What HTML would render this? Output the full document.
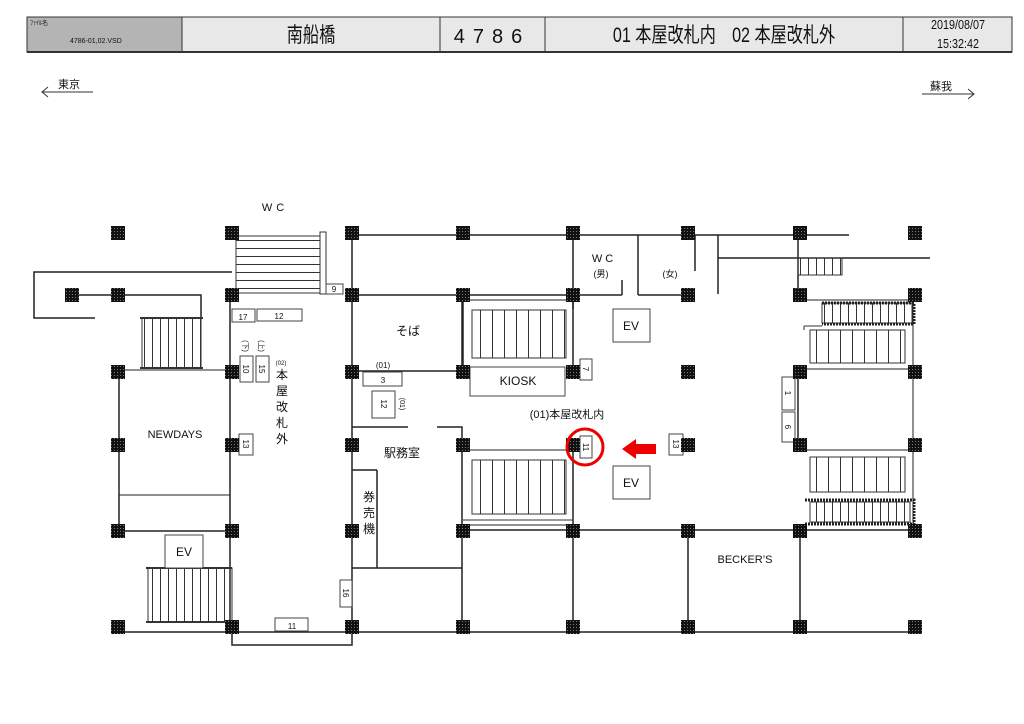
<!DOCTYPE html>
<html><head><meta charset="utf-8"><style>
body{margin:0;background:#fff}
svg{display:block}
text{font-family:"Liberation Sans","Noto Sans CJK JP",sans-serif;fill:#111}
</style></head><body>
<svg width="1024" height="724" viewBox="0 0 1024 724" xmlns="http://www.w3.org/2000/svg">
<defs>
<pattern id="pl" width="3" height="3" patternUnits="userSpaceOnUse"><rect width="3" height="3" fill="#111"/><rect width="1" height="1" fill="#777"/></pattern>
<pattern id="vt" width="12" height="10" patternUnits="userSpaceOnUse"><line x1="0.5" y1="0" x2="0.5" y2="10" stroke="#333"/></pattern>
<pattern id="vt8" width="8" height="10" patternUnits="userSpaceOnUse"><line x1="0.5" y1="0" x2="0.5" y2="10" stroke="#333"/></pattern>
<pattern id="ht" width="10" height="8" patternUnits="userSpaceOnUse"><line x1="0" y1="0.5" x2="10" y2="0.5" stroke="#333"/></pattern>
</defs>
<!-- header -->
<rect x="27" y="17" width="985" height="35" fill="#e8e8e8" stroke="#333"/>
<rect x="27" y="17" width="155" height="35" fill="#b4b4b4" stroke="#333"/>
<line x1="440" y1="17" x2="440" y2="52" stroke="#333"/>
<line x1="545" y1="17" x2="545" y2="52" stroke="#333"/>
<line x1="903" y1="17" x2="903" y2="52" stroke="#333"/>
<line x1="27" y1="52" x2="1012" y2="52" stroke="#333" stroke-width="2"/>
<text x="30" y="25" font-size="6">ﾌｧｲﾙ名</text>
<text x="70" y="43" font-size="7">4786-01,02.VSD</text>
<text transform="translate(311,42) scale(0.85,1.1)" font-size="19" text-anchor="middle">南船橋</text>
<text x="492" y="43" font-size="20" text-anchor="middle" letter-spacing="8">4786</text>
<text transform="translate(724,42) scale(0.85,1.1)" font-size="19" text-anchor="middle">01 本屋改札内　02 本屋改札外</text>
<text transform="translate(958,29) scale(0.9,1.1)" font-size="12" text-anchor="middle">2019/08/07</text>
<text transform="translate(958,48) scale(0.9,1.1)" font-size="12" text-anchor="middle">15:32:42</text>
<!-- direction -->
<text x="58" y="88" font-size="11">東京</text>
<path d="M42 92H93M48 87L42 92L48 97" stroke="#333" fill="none"/>
<text x="930" y="90" font-size="11">蘇我</text>
<path d="M922 94H974M968 89L974 94L968 99" stroke="#333" fill="none"/>

<g stroke="#222" stroke-width="1.5" fill="none">
<line x1="352" y1="235" x2="849" y2="235"/>
<path d="M232 272H34V318H95"/>
<path d="M72 295H201V318"/>
<line x1="352" y1="295" x2="622" y2="295"/>
<line x1="638" y1="295" x2="687" y2="295"/>
<line x1="622" y1="280" x2="622" y2="295"/>
<line x1="638" y1="235" x2="638" y2="295"/>
<line x1="695" y1="235" x2="695" y2="271"/>
<line x1="718" y1="235" x2="718" y2="294"/>
<line x1="718" y1="258" x2="930" y2="258"/>
<line x1="573" y1="235" x2="573" y2="309"/>
<line x1="352" y1="233" x2="352" y2="632"/>
<line x1="462" y1="295" x2="462" y2="372"/>
<line x1="352" y1="371" x2="463" y2="371"/>
<line x1="230" y1="295" x2="230" y2="628"/>
<line x1="119" y1="370" x2="119" y2="530"/>
<line x1="119" y1="370" x2="232" y2="370" stroke-width="1"/>
<line x1="119" y1="495" x2="230" y2="495" stroke-width="1"/>
<line x1="119" y1="531" x2="232" y2="531"/>
<line x1="118" y1="632" x2="915" y2="632"/>
<path d="M232 632V645H352V632"/>
<path d="M352 427H408M437 427H462V632"/>
<line x1="352" y1="568" x2="462" y2="568"/>
<line x1="377" y1="470" x2="377" y2="568"/>
<line x1="352" y1="470" x2="377" y2="470"/>
<line x1="463" y1="300" x2="573" y2="300" stroke-width="1"/>
<line x1="463" y1="295" x2="463" y2="372"/>
<line x1="573" y1="300" x2="573" y2="372"/>
<line x1="573" y1="444" x2="573" y2="632"/>
<line x1="463" y1="450" x2="573" y2="450" stroke-width="1"/>
<line x1="463" y1="525" x2="573" y2="525" stroke-width="1"/>
<line x1="463" y1="530" x2="915" y2="530"/>
<line x1="688" y1="530" x2="688" y2="632"/>
<line x1="800" y1="530" x2="800" y2="632"/>
<line x1="798" y1="235" x2="798" y2="300"/>
<line x1="800" y1="300" x2="915" y2="300" stroke-width="1"/>
<line x1="804" y1="369" x2="915" y2="369" stroke-width="1"/>
<line x1="798" y1="372" x2="798" y2="444"/>
<line x1="804" y1="450" x2="915" y2="450" stroke-width="1"/>
<line x1="913" y1="300" x2="913" y2="530" stroke-width="1"/>
</g>

<g stroke="#333" stroke-width="1">
<rect x="142" y="318" width="59" height="50" fill="url(#vt8)"/>
<rect x="142" y="318" width="59" height="50" fill="none"/>
<line x1="140" y1="318" x2="203" y2="318" stroke-width="2"/>
<line x1="140" y1="368" x2="203" y2="368" stroke-width="2"/>
<rect x="148" y="568" width="84" height="54" fill="url(#vt8)"/>
<rect x="148" y="568" width="84" height="54" fill="none"/>
<line x1="146" y1="568" x2="232" y2="568" stroke-width="2"/>
<line x1="146" y1="622" x2="232" y2="622" stroke-width="2"/>
<rect x="236" y="236" width="84" height="57" fill="url(#ht)"/>
<rect x="236" y="236" width="84" height="57" fill="none"/>
<rect x="320" y="232" width="6" height="62" fill="#fff"/>
<rect x="472" y="310" width="94" height="48" fill="url(#vt)"/>
<rect x="472" y="310" width="94" height="48" fill="none"/>
<rect x="472" y="460" width="94" height="54" fill="url(#vt)"/>
<rect x="472" y="460" width="94" height="54" fill="none"/>
<line x1="463" y1="520" x2="573" y2="520"/>
<rect x="810" y="330" width="95" height="33" fill="url(#vt)"/>
<rect x="810" y="330" width="95" height="33" fill="none"/>
<rect x="810" y="457" width="95" height="35" fill="url(#vt)"/>
<rect x="810" y="457" width="95" height="35" fill="none"/>
<rect x="822" y="303" width="90" height="20" fill="url(#vt8)"/>
<path d="M822 303H914V324H822" fill="none" stroke="#222" stroke-width="3" stroke-dasharray="2 1"/>
<path d="M805 500H914V524H805" fill="none" stroke="#222" stroke-width="3" stroke-dasharray="2 1"/>
<rect x="810" y="502" width="100" height="20" fill="url(#vt8)"/>
<line x1="804" y1="326" x2="822" y2="326"/>
<line x1="804" y1="326" x2="804" y2="330"/>
<rect x="798" y="258" width="44" height="17" fill="url(#vt8)"/>
<rect x="798" y="258" width="44" height="17" fill="none"/>
</g>

<g stroke="#444" stroke-width="1" fill="#fff">
<rect x="326" y="284" width="17" height="10"/>
<rect x="232" y="309" width="23" height="13"/>
<rect x="257" y="309" width="45" height="12"/>
<rect x="240" y="356" width="13" height="26"/>
<rect x="256" y="356" width="13" height="26"/>
<rect x="239" y="434" width="14" height="21"/>
<rect x="363" y="372" width="39" height="14"/>
<rect x="372" y="391" width="23" height="27"/>
<rect x="340" y="580" width="12" height="27"/>
<rect x="275" y="618" width="33" height="13"/>
<rect x="470" y="367" width="95" height="29"/>
<rect x="580" y="359" width="12" height="21"/>
<rect x="613" y="309" width="37" height="33"/>
<rect x="613" y="466" width="37" height="33"/>
<rect x="580" y="436" width="12" height="22"/>
<rect x="669" y="434" width="14" height="21"/>
<rect x="782" y="377" width="13" height="33"/>
<rect x="782" y="412" width="13" height="30"/>
<rect x="165" y="535" width="38" height="33"/>
</g>

<g fill="url(#pl)">
<rect x="111" y="226" width="14" height="14"/><rect x="225" y="226" width="14" height="14"/><rect x="345" y="226" width="14" height="14"/><rect x="456" y="226" width="14" height="14"/><rect x="566" y="226" width="14" height="14"/><rect x="681" y="226" width="14" height="14"/><rect x="793" y="226" width="14" height="14"/><rect x="908" y="226" width="14" height="14"/>
<rect x="65" y="288" width="14" height="14"/><rect x="111" y="288" width="14" height="14"/><rect x="225" y="288" width="14" height="14"/><rect x="345" y="288" width="14" height="14"/><rect x="456" y="288" width="14" height="14"/><rect x="566" y="288" width="14" height="14"/><rect x="681" y="288" width="14" height="14"/><rect x="793" y="288" width="14" height="14"/><rect x="908" y="288" width="14" height="14"/>
<rect x="111" y="365" width="14" height="14"/><rect x="225" y="365" width="14" height="14"/><rect x="345" y="365" width="14" height="14"/><rect x="456" y="365" width="14" height="14"/><rect x="566" y="365" width="14" height="14"/><rect x="681" y="365" width="14" height="14"/><rect x="793" y="365" width="14" height="14"/><rect x="908" y="365" width="14" height="14"/>
<rect x="111" y="438" width="14" height="14"/><rect x="225" y="438" width="14" height="14"/><rect x="345" y="438" width="14" height="14"/><rect x="456" y="438" width="14" height="14"/><rect x="566" y="438" width="14" height="14"/><rect x="681" y="438" width="14" height="14"/><rect x="793" y="438" width="14" height="14"/><rect x="908" y="438" width="14" height="14"/>
<rect x="111" y="524" width="14" height="14"/><rect x="225" y="524" width="14" height="14"/><rect x="345" y="524" width="14" height="14"/><rect x="456" y="524" width="14" height="14"/><rect x="566" y="524" width="14" height="14"/><rect x="681" y="524" width="14" height="14"/><rect x="793" y="524" width="14" height="14"/><rect x="908" y="524" width="14" height="14"/>
<rect x="111" y="620" width="14" height="14"/><rect x="225" y="620" width="14" height="14"/><rect x="345" y="620" width="14" height="14"/><rect x="456" y="620" width="14" height="14"/><rect x="566" y="620" width="14" height="14"/><rect x="681" y="620" width="14" height="14"/><rect x="793" y="620" width="14" height="14"/><rect x="908" y="620" width="14" height="14"/>
</g>

<g font-size="8">
<text x="334" y="292" text-anchor="middle">9</text>
<text x="243" y="320" text-anchor="middle">17</text>
<text x="279" y="319" text-anchor="middle">12</text>
<text x="383" y="383" text-anchor="middle">3</text>
<text x="292" y="629" text-anchor="middle">11</text>
<text transform="translate(243,369) rotate(90)" text-anchor="middle">10</text>
<text transform="translate(259,369) rotate(90)" text-anchor="middle">15</text>
<text transform="translate(243,444) rotate(90)" text-anchor="middle">13</text>
<text transform="translate(381,404) rotate(90)" text-anchor="middle">12</text>
<text transform="translate(343,593) rotate(90)" text-anchor="middle">16</text>
<text transform="translate(583,369) rotate(90)" text-anchor="middle">7</text>
<text transform="translate(583,447) rotate(90)" text-anchor="middle">11</text>
<text transform="translate(673,444) rotate(90)" text-anchor="middle">13</text>
<text transform="translate(785,393) rotate(90)" text-anchor="middle">1</text>
<text transform="translate(785,427) rotate(90)" text-anchor="middle">6</text>
<text transform="translate(400,404) rotate(90)" text-anchor="middle" font-size="7">(01)</text>
<text transform="translate(243,346) rotate(90)" text-anchor="middle" font-size="7">(下)</text>
<text transform="translate(259,346) rotate(90)" text-anchor="middle" font-size="7">(上)</text>
<text x="281" y="365" text-anchor="middle" font-size="6">(02)</text>
<text x="383" y="368" text-anchor="middle">(01)</text>
</g>
<g font-size="11">
<text x="275" y="211" text-anchor="middle" letter-spacing="4">WC</text>
<text x="604" y="262" text-anchor="middle" letter-spacing="3">WC</text>
<text x="601" y="277" text-anchor="middle" font-size="9">(男)</text>
<text x="670" y="277" text-anchor="middle" font-size="9">(女)</text>
<text x="408" y="335" text-anchor="middle" font-size="12">そば</text>
<text x="175" y="438" text-anchor="middle">NEWDAYS</text>
<text x="282" y="379" text-anchor="middle" font-size="12">本</text>
<text x="282" y="395" text-anchor="middle" font-size="12">屋</text>
<text x="282" y="411" text-anchor="middle" font-size="12">改</text>
<text x="282" y="427" text-anchor="middle" font-size="12">札</text>
<text x="282" y="443" text-anchor="middle" font-size="12">外</text>
<text x="402" y="457" text-anchor="middle" font-size="12">駅務室</text>
<text x="369" y="501" text-anchor="middle" font-size="12">券</text>
<text x="369" y="517" text-anchor="middle" font-size="12">売</text>
<text x="369" y="533" text-anchor="middle" font-size="12">機</text>
<text x="518" y="385" text-anchor="middle" font-size="12">KIOSK</text>
<text x="631" y="330" text-anchor="middle" font-size="12">EV</text>
<text x="631" y="487" text-anchor="middle" font-size="12">EV</text>
<text x="184" y="556" text-anchor="middle" font-size="12">EV</text>
<text x="567" y="418" text-anchor="middle">(01)本屋改札内</text>
<text x="745" y="563" text-anchor="middle">BECKER’S</text>
</g>
<circle cx="585" cy="447" r="18" fill="none" stroke="#e00" stroke-width="3"/>
<path d="M656 444H636V439L622 449L636 459V454H656Z" fill="#e00"/>
</svg>
</body></html>
